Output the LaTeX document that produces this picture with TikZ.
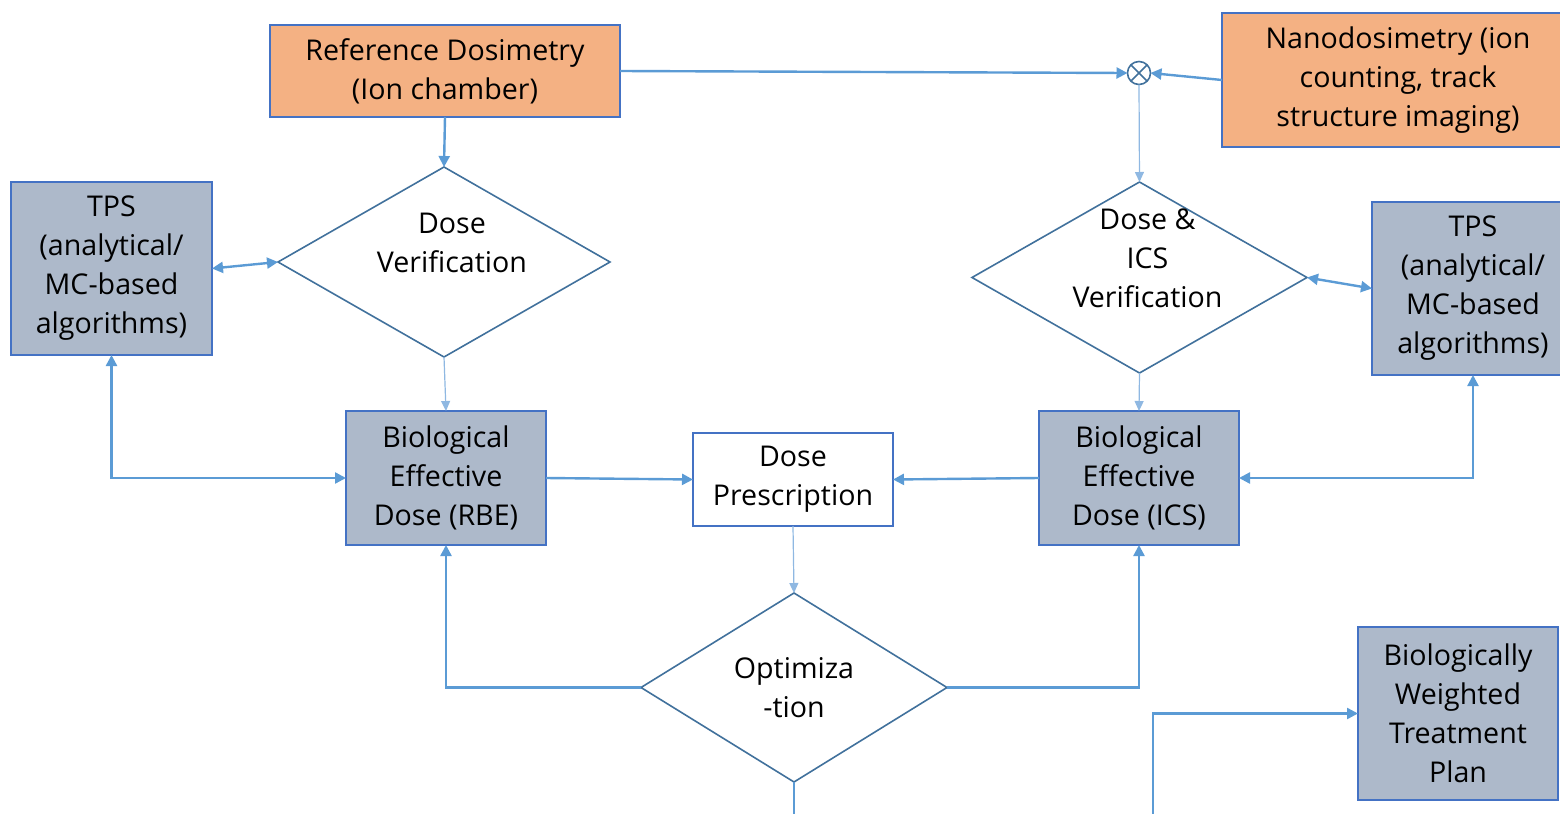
\documentclass[tikz,border=0pt]{standalone}
\usepackage{fontspec}
\setmainfont{Open Sans}
\usetikzlibrary{arrows.meta,shapes.geometric}
\definecolor{bwline}{HTML}{5B9BD5}
\definecolor{bwlight}{HTML}{8FB8E2}
\definecolor{bwedge}{HTML}{4472C4}
\definecolor{bwdark}{HTML}{41719C}
\definecolor{bworange}{HTML}{F4B183}
\definecolor{bwgrey}{HTML}{ADB9CA}

\begin{document}
\begin{tikzpicture}[
  x=0.5pt, y=-0.5pt,
  font=\fontsize{14.3}{19.5}\selectfont,
  srcbox/.style={draw=bwedge, fill=bworange, line width=0.8pt, align=center, inner sep=0pt, outer sep=0pt},
  calcbox/.style={draw=bwedge, fill=bwgrey, line width=0.8pt, align=center, inner sep=0pt, outer sep=0pt},
  plainbox/.style={draw=bwedge, fill=white, line width=0.8pt, align=center, inner sep=0pt, outer sep=0pt},
  decision/.style={diamond, draw=bwdark, fill=white, line width=0.8pt, inner sep=0pt, outer sep=0pt},
  dlab/.style={align=center, font=\fontsize{14.3}{19.5}\selectfont},
  sumnode/.style={circle, draw=bwdark, line width=0.8pt, minimum size=11.5pt, inner sep=0pt, outer sep=0pt},
  arr/.style={-{Triangle[length=5.5pt,width=5.5pt]}, bwline, line width=1.2pt},
  biarr/.style={{Triangle[length=5.5pt,width=5.5pt]}-{Triangle[length=5.5pt,width=5.5pt]}, bwline, line width=1.2pt},
  arrthin/.style={-{Triangle[length=5pt,width=4.5pt]}, bwlight, line width=0.6pt}
]
\useasboundingbox (0,0) rectangle (1560,814);

% Measurement inputs
\node[srcbox, minimum width=175pt, minimum height=46pt] (ref) at (445,71) {Reference Dosimetry\\(Ion chamber)};
\node[srcbox, minimum width=176pt, minimum height=67pt] (nano) at (1398,80) {Nanodosimetry (ion\\counting, track\\structure imaging)};
\node[sumnode] (sum) at (1139,73) {};
\draw[bwdark, line width=0.8pt] (sum.north west) -- (sum.south east) (sum.north east) -- (sum.south west);

% Verification
\node[decision, minimum width=166pt, minimum height=95pt,
  label={[dlab, xshift=4pt, yshift=9.5pt]center:Dose\\Verification}] (ver) at (444,262) {};
\node[decision, minimum width=167.5pt, minimum height=95.5pt,
  label={[dlab, xshift=4pt, yshift=9.5pt]center:Dose \&\\ICS\\Verification}] (ics) at (1139.5,277.5) {};

% Treatment planning systems
\node[calcbox, minimum width=100.5pt, minimum height=86.5pt] (tpsL) at (111.5,268.5) {TPS\\(analytical/\\MC-based\\algorithms)};
\node[calcbox, minimum width=101pt, minimum height=86.5pt] (tpsR) at (1473,288.5) {TPS\\(analytical/\\MC-based\\algorithms)};

% Dose chain
\node[calcbox, minimum width=100pt, minimum height=67pt] (bioR) at (446,478) {Biological\\Effective\\Dose (RBE)};
\node[plainbox, minimum width=100pt, minimum height=46.5pt] (presc) at (793,479.5) {Dose\\Prescription};
\node[calcbox, minimum width=100pt, minimum height=67pt] (bioI) at (1139,478) {Biological\\Effective\\Dose (ICS)};
\node[decision, minimum width=153pt, minimum height=94.5pt, dlab] (opt) at (794,687.5) {Optimiza\\-tion};
\node[calcbox, minimum width=100pt, minimum height=86.5pt] (plan) at (1458,713.5) {Biologically\\Weighted\\Treatment\\Plan};

\coordinate (optout) at (794,814);
\coordinate (planin) at (1153,814);

% Connectors
\draw[arr] (ref.east) -- (sum.west);
\draw[arr] (nano.west) -- (sum.east);
\draw[arrthin] (sum.south) -- (ics.north);
\draw[arr] (ref.south) -- (ver.north);
\draw[biarr] (tpsL.east) -- (ver.west);
\draw[arrthin] (ver.south) -- (bioR.north);
\draw[biarr] (tpsL.south) |- (bioR.west);
\draw[arr] (bioR.east) -- (presc.west);
\draw[arr] (bioI.west) -- (presc.east);
\draw[arrthin] (presc.south) -- (opt.north);
\draw[arr] (opt.west) -| (bioR.south);
\draw[arr] (opt.east) -| (bioI.south);
\draw[arrthin] (ics.south) -- (bioI.north);
\draw[biarr] (ics.east) -- (tpsR.west);
\draw[biarr] (tpsR.south) |- (bioI.east);
\draw[bwline, line width=1.2pt] (opt.south) -- (optout);
\draw[arr] (planin) |- (plan.west);

\end{tikzpicture}
\end{document}
